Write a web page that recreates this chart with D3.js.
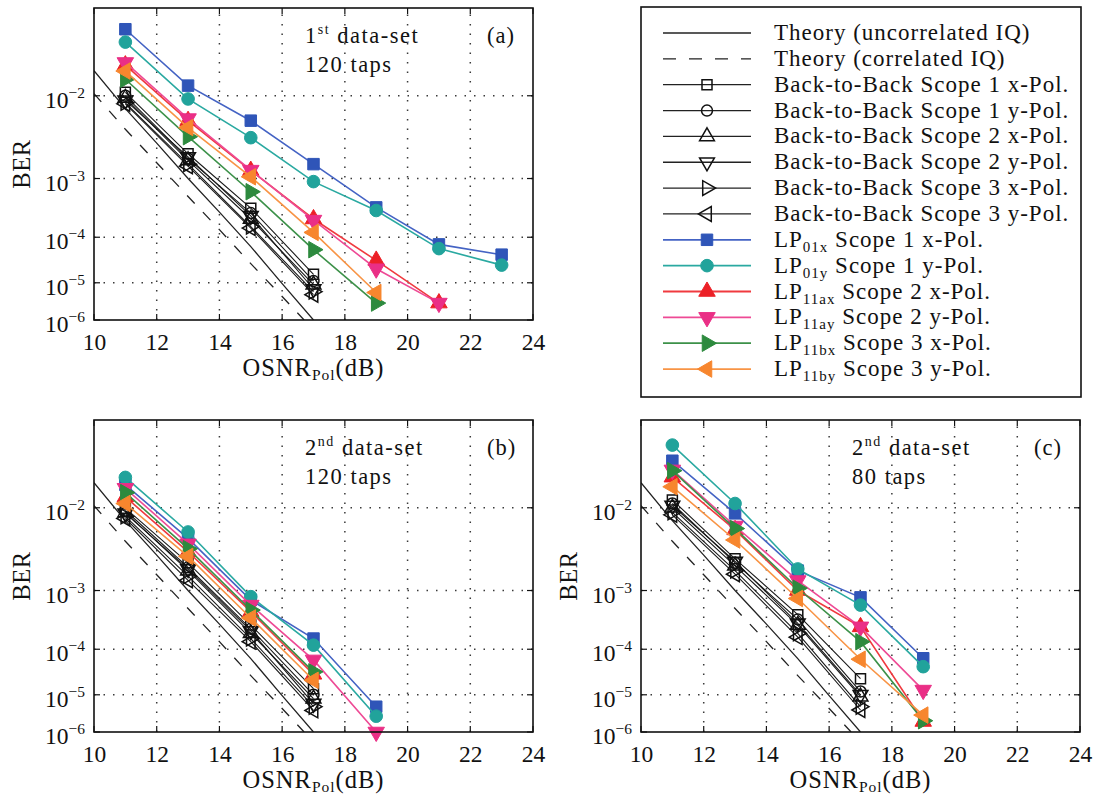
<!DOCTYPE html>
<html>
<head>
<meta charset="utf-8">
<script src="https://cdn.jsdelivr.net/npm/d3@7"></script>
<style>
  body { margin: 0; background: #fff; }
  svg text { font-family: "Liberation Serif", serif; fill: #111; }
</style>
</head>
<body>
<svg id="chart" width="1095" height="801"></svg>
<script>
// ---------- axes ----------
const osnrTicks = [10, 12, 14, 16, 18, 20, 22, 24];
const berTicks = [1e-2, 1e-3, 1e-4, 1e-5, 1e-6];
const berTickExp = ["\u22122", "\u22123", "\u22124", "\u22125", "\u22126"];
const berGrid = [1e-2, 1e-3, 1e-4, 1e-5];
const osnrGrid = [12, 14, 16, 18, 20, 22];

// ---------- OSNR sample points (dB) ----------
const osnrLP = [11, 13, 15, 17, 19, 21, 23];
const osnrB2B = [11, 13, 15, 17];

// ---------- theory curves (OSNR dB, BER) ----------
const theoryUncorrOsnr = [10, 11, 12, 13, 14, 15, 16, 17];
const theoryUncorrBer = [1.7e-2, 7.4e-3, 3.0e-3, 1.0e-3, 2.9e-4, 6.5e-5, 9.5e-6, 1.0e-6];
const theoryCorrOsnr = [10, 11, 12, 13, 14, 15, 16, 16.7];
const theoryCorrBer = [1.05e-2, 4.4e-3, 1.67e-3, 5.3e-4, 1.4e-4, 2.8e-5, 4.5e-6, 1.0e-6];

// ---------- (a) 1st data-set, 120 taps ----------
const a_LP01x = [0.036, 0.0125, 0.0055, 0.0016, 3.5e-4, 7.2e-5, 4.4e-5];
const a_LP01y = [0.029, 0.0093, 0.0035, 9.0e-4, 3.1e-4, 5.9e-5, 2.6e-5];
const a_LP11ax = [0.019, 0.0055, 0.0013, 2.2e-4, 3.3e-5, 3.0e-6];
const a_LP11ay = [0.020, 0.0058, 0.00132, 2.1e-4, 2.15e-5, 3.0e-6];
const a_LP11bx = [0.0143, 0.0036, 6.3e-4, 5.6e-5, 3.0e-6];
const a_LP11by = [0.0169, 0.0046, 1.06e-3, 1.24e-4, 5.7e-6];
const a_B2B_S1x = [0.0108, 0.0022, 3.4e-4, 1.6e-5];
const a_B2B_S1y = [0.0100, 0.0019, 2.8e-4, 1.1e-5];
const a_B2B_S2x = [0.0095, 0.0018, 2.2e-4, 9.0e-6];
const a_B2B_S2y = [0.0090, 0.0020, 2.5e-4, 7.0e-6];
const a_B2B_S3x = [0.0085, 0.0016, 1.6e-4, 6.0e-6];
const a_B2B_S3y = [0.0083, 0.0015, 1.5e-4, 5.0e-6];

// ---------- (b) 2nd data-set, 120 taps ----------
const b_LP01x = [0.0163, 0.00475, 7.2e-4, 1.6e-4, 5.0e-6];
const b_LP01y = [0.0189, 0.0056, 8.1e-4, 1.2e-4, 2.8e-6];
const b_LP11ax = [0.0127, 0.0033, 4.7e-4, 3.0e-5];
const b_LP11ay = [0.0152, 0.0041, 6.0e-4, 6.1e-5, 1.0e-6];
const b_LP11bx = [0.0139, 0.0036, 5.0e-4, 3.4e-5];
const b_LP11by = [0.0110, 0.0029, 3.7e-4, 2.2e-5];
const b_B2B_S1x = [0.0099, 0.0024, 2.8e-4, 1.4e-5];
const b_B2B_S1y = [0.0094, 0.0021, 2.4e-4, 1.0e-5];
const b_B2B_S2x = [0.0090, 0.0019, 2.0e-4, 8.0e-6];
const b_B2B_S2y = [0.0088, 0.0020, 2.2e-4, 6.0e-6];
const b_B2B_S3x = [0.0082, 0.0016, 1.6e-4, 5.0e-6];
const b_B2B_S3y = [0.0078, 0.0014, 1.4e-4, 4.0e-6];

// ---------- (c) 2nd data-set, 80 taps ----------
const c_LP01x = [0.0258, 0.0088, 0.0019, 7.9e-4, 6.6e-5];
const c_LP01y = [0.0338, 0.0110, 0.0020, 6.0e-4, 4.4e-5];
const c_LP11ax = [0.019, 0.0059, 0.0010, 2.6e-4, 2.0e-6];
const c_LP11ay = [0.0218, 0.0065, 0.00139, 2.6e-4, 1.3e-5];
const c_LP11bx = [0.0215, 0.0061, 0.00108, 1.4e-4, 2.1e-6];
const c_LP11by = [0.0157, 0.00455, 7.6e-4, 6.3e-5, 3.0e-6];
const c_B2B_S1x = [0.0119, 0.0027, 4.2e-4, 2.4e-5];
const c_B2B_S1y = [0.0110, 0.0024, 3.5e-4, 1.2e-5];
const c_B2B_S2x = [0.0100, 0.0022, 2.8e-4, 9.0e-6];
const c_B2B_S2y = [0.0105, 0.0025, 3.0e-4, 1.0e-5];
const c_B2B_S3x = [0.0090, 0.0019, 2.0e-4, 5.0e-6];
const c_B2B_S3y = [0.0085, 0.0017, 1.7e-4, 4.1e-6];

// ---------- legend text ----------
const legendMain = [
  "Theory (uncorrelated IQ)", "Theory (correlated IQ)",
  "Back-to-Back Scope 1 x-Pol.", "Back-to-Back Scope 1 y-Pol.",
  "Back-to-Back Scope 2 x-Pol.", "Back-to-Back Scope 2 y-Pol.",
  "Back-to-Back Scope 3 x-Pol.", "Back-to-Back Scope 3 y-Pol.",
  "LP", "LP", "LP", "LP", "LP", "LP"
];
const legendSub = ["", "", "", "", "", "", "", "", "01x", "01y", "11ax", "11ay", "11bx", "11by"];
const legendRest = ["", "", "", "", "", "", "", "",
  " Scope 1 x-Pol.", " Scope 1 y-Pol.", " Scope 2 x-Pol.", " Scope 2 y-Pol.",
  " Scope 3 x-Pol.", " Scope 3 y-Pol."];

// ---------- styles ----------
const lpColors = ["#2f55b8", "#21a39b", "#ec2027", "#ea2f86", "#2d8a3e", "#f7862e"];
const lpLineColors = ["#4463c4", "#2aa9a1", "#f03a3f", "#ee4a95", "#3c9149", "#f89445"];
const markerKinds = ["square", "circle", "up", "down", "right", "left"];

// ---------- layout ----------
const plotW = 439, plotH = 312;
const panels = [
  { left: 94, top: 8, tag: "(a)", ord: "1", sup: "st", taps: "120 taps",
    lp: [a_LP01x, a_LP01y, a_LP11ax, a_LP11ay, a_LP11bx, a_LP11by],
    b2b: [a_B2B_S1x, a_B2B_S1y, a_B2B_S2x, a_B2B_S2y, a_B2B_S3x, a_B2B_S3y] },
  { left: 94, top: 420, tag: "(b)", ord: "2", sup: "nd", taps: "120 taps",
    lp: [b_LP01x, b_LP01y, b_LP11ax, b_LP11ay, b_LP11bx, b_LP11by],
    b2b: [b_B2B_S1x, b_B2B_S1y, b_B2B_S2x, b_B2B_S2y, b_B2B_S3x, b_B2B_S3y] },
  { left: 641, top: 420, tag: "(c)", ord: "2", sup: "nd", taps: "80 taps",
    lp: [c_LP01x, c_LP01y, c_LP11ax, c_LP11ay, c_LP11bx, c_LP11by],
    b2b: [c_B2B_S1x, c_B2B_S1y, c_B2B_S2x, c_B2B_S2y, c_B2B_S3x, c_B2B_S3y] }
];

const svg = d3.select("#chart");

// BER axis is linear in log10(-log10(BER))
const berT = b => Math.log10(-Math.log10(b));
const berTopLimit = 0.05, berBottomLimit = 1e-6;

// symbol areas for filled (transmission) and open (back-to-back) markers
const filledArea = { square: 132, circle: 125, tri: 118 };
const openArea = { square: 100, circle: 95, tri: 95 };

function markerPath(kind, filled) {
  const a = filled ? filledArea : openArea;
  let sym, size, rot = 0;
  if (kind === "square") { sym = d3.symbolSquare; size = a.square; }
  else if (kind === "circle") { sym = d3.symbolCircle; size = a.circle; }
  else { sym = d3.symbolTriangle; size = a.tri;
         rot = { up: 0, down: 180, right: 90, left: -90 }[kind]; }
  return { d: d3.symbol().type(sym).size(size)(), rot };
}

function drawMarker(g, kind, cx, cy, filled, color) {
  const m = markerPath(kind, filled);
  g.append("path")
    .attr("d", m.d)
    .attr("transform", `translate(${cx},${cy}) rotate(${m.rot})`)
    .attr("fill", filled ? color : "none")
    .attr("stroke", color)
    .attr("stroke-width", filled ? 1 : 1.5);
}

panels.forEach((p, pi) => {
  const g = svg.append("g").attr("transform", `translate(${p.left},${p.top})`);
  const x = d3.scaleLinear().domain([10, 24]).range([0, plotW]);
  const yT = d3.scaleLinear().domain([berT(berTopLimit), berT(berBottomLimit)]).range([0, plotH]);
  const y = b => yT(berT(b));

  const clipId = "clip" + pi;
  g.append("clipPath").attr("id", clipId)
    .append("rect").attr("width", plotW).attr("height", plotH);

  // dotted grid
  const grid = g.append("g").attr("stroke", "#3a3a3a").attr("stroke-width", 1.5)
    .attr("stroke-dasharray", "1.5,8");
  osnrGrid.forEach(v => grid.append("line")
    .attr("x1", x(v)).attr("x2", x(v)).attr("y1", plotH).attr("y2", 0));
  berGrid.forEach(v => grid.append("line")
    .attr("x1", 0).attr("x2", plotW).attr("y1", y(v)).attr("y2", y(v)));

  const plot = g.append("g").attr("clip-path", `url(#${clipId})`);
  const marks = g.append("g");
  const line = d3.line().x(d => x(d[0])).y(d => y(d[1]));

  // theory curves
  plot.append("path").datum(d3.zip(theoryUncorrOsnr, theoryUncorrBer))
    .attr("d", line).attr("fill", "none").attr("stroke", "#222").attr("stroke-width", 1.3);
  plot.append("path").datum(d3.zip(theoryCorrOsnr, theoryCorrBer))
    .attr("d", line).attr("fill", "none").attr("stroke", "#222").attr("stroke-width", 1.3)
    .attr("stroke-dasharray", "11,12");

  // back-to-back measurements
  p.b2b.forEach(vals => {
    const pts = vals.map((v, k) => [osnrB2B[k], v]);
    plot.append("path").datum(pts).attr("d", line)
      .attr("fill", "none").attr("stroke", "#1a1a1a").attr("stroke-width", 1.1);
  });
  p.b2b.forEach((vals, i) => {
    vals.forEach((v, k) => drawMarker(marks, markerKinds[i], x(osnrB2B[k]), y(v), false, "#111"));
  });

  // few-mode fibre transmission
  p.lp.forEach((vals, i) => {
    const pts = vals.map((v, k) => [osnrLP[k], v]);
    marks.append("path").datum(pts).attr("d", line)
      .attr("fill", "none").attr("stroke", lpLineColors[i]).attr("stroke-width", 1.6);
    pts.forEach(d => drawMarker(marks, markerKinds[i], x(d[0]), y(d[1]), true, lpColors[i]));
  });

  // frame with inward ticks
  g.append("rect").attr("width", plotW).attr("height", plotH)
    .attr("fill", "none").attr("stroke", "#111").attr("stroke-width", 1.6);
  const ticks = g.append("g").attr("stroke", "#111").attr("stroke-width", 1.2);
  osnrTicks.forEach(v => {
    ticks.append("line").attr("x1", x(v)).attr("x2", x(v)).attr("y1", plotH).attr("y2", plotH - 6);
    ticks.append("line").attr("x1", x(v)).attr("x2", x(v)).attr("y1", 0).attr("y2", 6);
  });
  berTicks.forEach(v => {
    ticks.append("line").attr("x1", 0).attr("x2", 6).attr("y1", y(v)).attr("y2", y(v));
    ticks.append("line").attr("x1", plotW).attr("x2", plotW - 6).attr("y1", y(v)).attr("y2", y(v));
  });

  // x tick labels
  const xAxis = d3.axisBottom(x).tickValues(osnrTicks).tickSize(0).tickPadding(13)
    .tickFormat(d3.format("d"));
  const xa = g.append("g").attr("transform", `translate(0,${plotH})`).call(xAxis);
  xa.select(".domain").remove();
  xa.selectAll("text").attr("font-size", 23.5).attr("fill", "#111");

  // y tick labels (powers of ten)
  berTicks.forEach((v, i) => {
    const t = g.append("text").attr("x", -9).attr("y", y(v) + 12)
      .attr("text-anchor", "end").attr("font-size", 23.5);
    t.append("tspan").text("10");
    t.append("tspan").attr("font-size", 15.5).attr("dy", -10).text(berTickExp[i]);
  });

  // axis titles
  g.append("text").attr("transform", `translate(-73,${plotH / 2}) rotate(-90)`)
    .attr("text-anchor", "middle").attr("dy", "0.35em").attr("font-size", 24.5)
    .attr("letter-spacing", 0.6).text("BER");
  const xt = g.append("text").attr("x", plotW / 2).attr("y", plotH + 56)
    .attr("text-anchor", "middle").attr("font-size", 24.5).attr("letter-spacing", 1);
  xt.append("tspan").text("OSNR");
  xt.append("tspan").attr("font-size", 15.5).attr("dy", 4).text("Pol");
  xt.append("tspan").attr("dy", -4).text("(dB)");

  // panel annotations
  const ann = g.append("text").attr("x", 211).attr("y", 35).attr("font-size", 22.5)
    .attr("letter-spacing", 1.5);
  ann.append("tspan").text(p.ord);
  ann.append("tspan").attr("font-size", 14).attr("dy", -9).text(p.sup);
  ann.append("tspan").attr("dy", 9).text(" data-set");
  g.append("text").attr("x", 211).attr("y", 64).attr("font-size", 22.5)
    .attr("letter-spacing", 1.5).text(p.taps);
  g.append("text").attr("x", 393).attr("y", 35).attr("font-size", 22.5)
    .attr("letter-spacing", 1).text(p.tag);
});

// ---------- legend ----------
const lg = svg.append("g").attr("transform", "translate(641,7)");
lg.append("rect").attr("width", 440).attr("height", 390)
  .attr("fill", "#fff").attr("stroke", "#111").attr("stroke-width", 1.6);
const rowH = 25.85;
legendMain.forEach((txt, i) => {
  const cy = 26 + i * rowH;
  const row = lg.append("g");
  let col = "#222", kind = null, filled = false, dash = null;
  if (i === 1) dash = "13,13";
  if (i >= 2 && i < 8) { kind = markerKinds[i - 2]; }
  if (i >= 8) { kind = markerKinds[i - 8]; filled = true; col = lpLineColors[i - 8]; }
  row.append("line").attr("x1", 22).attr("x2", 110).attr("y1", cy).attr("y2", cy)
    .attr("stroke", col).attr("stroke-width", i >= 8 ? 1.8 : 1.3)
    .attr("stroke-dasharray", dash);
  if (kind) drawMarker(row, kind, 66, cy, filled, filled ? lpColors[i - 8] : "#111");
  const t = row.append("text").attr("x", 133).attr("y", cy + 7)
    .attr("font-size", 23).attr("letter-spacing", 1.0);
  t.append("tspan").text(txt);
  if (legendSub[i]) {
    t.append("tspan").attr("font-size", 15).attr("dy", 5).text(legendSub[i]);
    t.append("tspan").attr("dy", -5).text(legendRest[i]);
  }
});
</script>
</body>
</html>
